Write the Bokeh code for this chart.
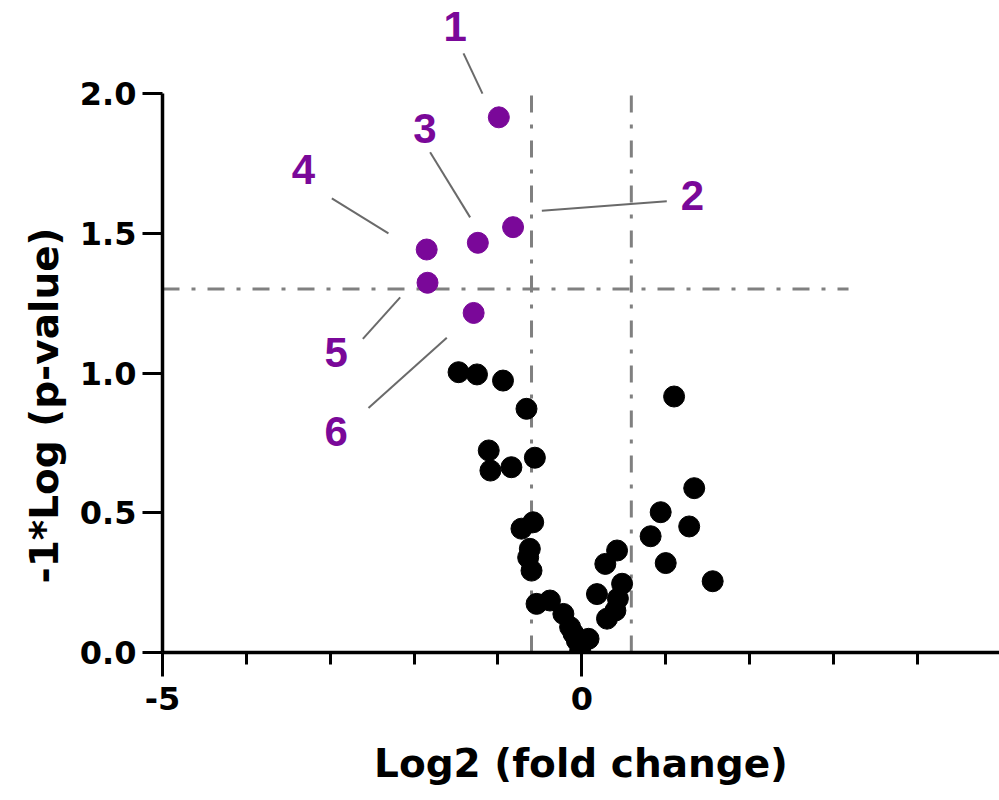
from bokeh.plotting import figure
from bokeh.models import ColumnDataSource, FixedTicker, PrintfTickFormatter, Title
from bokeh.core.properties import value
from bokeh.embed import file_html
from bokeh.resources import INLINE

# ---- data ----
# significant (purple) proteins
sig_ids = ["1", "2", "3", "4", "5", "6"]
sig_log2fc = [-0.99, -0.82, -1.24, -1.85, -1.84, -1.29]
sig_neglogp = [1.915, 1.522, 1.466, 1.442, 1.323, 1.215]

# label positions and leader lines for the significant points
label_x = [-1.51, 1.32, -1.87, -3.32, -2.93, -2.93]
label_y = [2.240, 1.637, 1.875, 1.728, 1.072, 0.791]
lead_x0 = [-1.411, 1.013, -1.809, -2.981, -2.611, -2.544]
lead_y0 = [2.144, 1.615, 1.790, 1.625, 1.122, 0.875]
lead_x1 = [-1.185, -0.477, -1.332, -2.306, -2.166, -1.610]
lead_y1 = [2.000, 1.581, 1.557, 1.500, 1.271, 1.126]

# non-significant (black) proteins
ns_log2fc = [-1.47, -1.25, -0.94, -0.66, -1.11, -1.09, -0.84, -0.56,
             1.10, 1.34, 0.94, 1.28, 0.82, 1.00, 1.56,
             -0.72, -0.58, -0.62, -0.64, -0.60,
             -0.54, -0.38, -0.22, -0.14, -0.10, -0.06, 0.08, -0.02,
             0.42, 0.28, 0.48, 0.18, 0.43, 0.40, 0.30]
ns_neglogp = [1.003, 0.995, 0.973, 0.872, 0.723, 0.651, 0.663, 0.697,
              0.916, 0.588, 0.502, 0.451, 0.416, 0.320, 0.255,
              0.443, 0.466, 0.371, 0.340, 0.293,
              0.174, 0.186, 0.138, 0.091, 0.068, 0.043, 0.049, 0.007,
              0.365, 0.317, 0.246, 0.209, 0.193, 0.150, 0.121]

# thresholds
p_threshold = 1.301          # -log10(0.05)
fc_thresholds = [-0.6, 0.59]

x_ticks = [-5, 0]
x_minor = [-4, -3, -2, -1, 1, 2, 3, 4]
y_ticks = [0.0, 0.5, 1.0, 1.5, 2.0]

PURPLE = "#7a0899"
GREY = "#808080"

p = figure(width=999, height=800, x_range=(-5, 4.98), y_range=(0, 2.333),
           output_backend="svg", toolbar_location=None,
           min_border_left=162, min_border_right=0, min_border_top=0,
           min_border_bottom=148)
p.outline_line_color = None
p.xgrid.visible = False
p.ygrid.visible = False
p.background_fill_color = "white"
p.border_fill_color = "white"

# threshold lines
p.segment(x0=[-5], y0=[p_threshold], x1=[3.18], y1=[p_threshold],
          line_color=GREY, line_width=3, line_dash="17 12 4 12")
p.segment(x0=fc_thresholds, y0=[0, 0], x1=fc_thresholds, y1=[2.0, 2.0],
          line_color=GREY, line_width=3, line_dash="17 12 4 12")

# leader lines
p.segment(x0=lead_x0, y0=lead_y0, x1=lead_x1, y1=lead_y1,
          line_color="#6a6a6a", line_width=2)

# points
ns_src = ColumnDataSource(dict(x=ns_log2fc, y=ns_neglogp))
p.scatter("x", "y", source=ns_src, size=21, fill_color="black", line_color="black")
sig_src = ColumnDataSource(dict(x=sig_log2fc, y=sig_neglogp))
p.scatter("x", "y", source=sig_src, size=21, fill_color=PURPLE, line_color=PURPLE)

# labels
lab_src = ColumnDataSource(dict(x=label_x, y=label_y, t=sig_ids))
p.text("x", "y", text="t", source=lab_src, text_color=PURPLE,
       text_font=value("Liberation Sans"), text_font_size="42px",
       text_font_style="bold", text_align="center", text_baseline="middle")

# x axis
xa = p.xaxis[0]
xa.ticker = FixedTicker(ticks=x_ticks, minor_ticks=x_minor)
xa.formatter = PrintfTickFormatter(format="%d")
xa.axis_label = "Log2 (fold change)"
xa.axis_line_width = 3.5
xa.major_tick_line_width = 3
xa.minor_tick_line_width = 3
xa.major_tick_out = 24
xa.major_tick_in = 0
xa.minor_tick_out = 12
xa.minor_tick_in = 0
xa.major_label_standoff = 10
xa.major_label_text_font = "DejaVu Sans"
xa.major_label_text_font_style = "bold"
xa.major_label_text_font_size = "32px"
xa.major_label_text_color = "black"
xa.axis_label_standoff = 28
xa.axis_label_text_font = "DejaVu Sans"
xa.axis_label_text_font_style = "bold"
xa.axis_label_text_font_size = "39px"
xa.axis_label_text_color = "black"

# y axis
ya = p.yaxis[0]
ya.ticker = FixedTicker(ticks=y_ticks, minor_ticks=[])
ya.formatter = PrintfTickFormatter(format="%.1f")
ya.bounds = (0, 2.0)
ya.axis_line_width = 3.5
ya.major_tick_line_width = 3
ya.major_tick_out = 20
ya.major_tick_in = 0
ya.minor_tick_out = 0
ya.minor_tick_in = 0
ya.major_label_standoff = 6
ya.major_label_text_font = "DejaVu Sans"
ya.major_label_text_font_style = "bold"
ya.major_label_text_font_size = "32px"
ya.major_label_text_color = "black"

# y axis label as a side title so it can sit centred on the axis bounds
ytitle = Title(text="-1*Log (p-value)", align="left", offset=69,
               text_font="DejaVu Sans", text_font_style="bold",
               text_font_size="39px", text_color="black", standoff=20)
p.add_layout(ytitle, "left")

open("out.html", "w").write(file_html(p, INLINE))
